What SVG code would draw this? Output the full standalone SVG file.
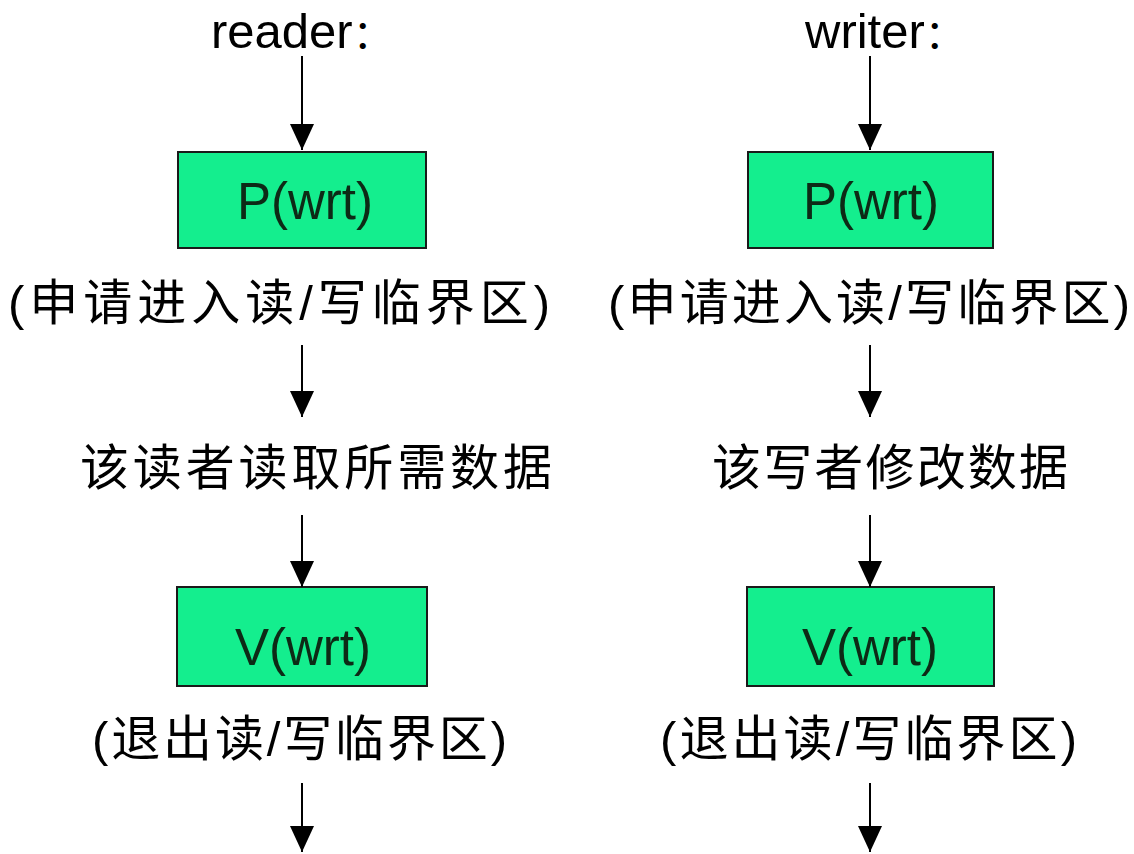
<svg xmlns="http://www.w3.org/2000/svg" width="1134" height="854" viewBox="0 0 1134 854">
<style>
.box{fill:#14EE8E;stroke:#1a1a1a;stroke-width:2}
.lat{font-family:"Liberation Sans",Arial,sans-serif;fill:#000}
.boxt{font-family:"Liberation Sans",Arial,sans-serif;font-size:51px;fill:#0d2a16;text-anchor:middle}
.cjk{font-family:"Liberation Sans","Noto Sans CJK SC",sans-serif;font-size:49px;fill:#000}
.conn line{stroke:#000;stroke-width:2}
</style>
<defs>
<marker id="ah" markerUnits="userSpaceOnUse" markerWidth="26" markerHeight="24" refX="26" refY="12" orient="auto">
<path d="M0,0 L26,12 L0,24 z" fill="#000"/>
</marker>
</defs>
<rect width="1134" height="854" fill="#fff"/>
<g id="reader-title"><text class="lat" x="211" y="48" font-size="49">reader<tspan font-family="Noto Sans CJK SC,sans-serif" font-size="40">：</tspan></text></g>
<g id="writer-title"><text class="lat" x="805" y="48" font-size="49">writer<tspan font-family="Noto Sans CJK SC,sans-serif" font-size="40">：</tspan></text></g>
<g id="r-p"><rect class="box" x="178" y="152" width="248" height="96"/><text class="boxt" x="305" y="219">P(wrt)</text></g>
<g id="w-p"><rect class="box" x="748" y="152" width="245" height="96"/><text class="boxt" x="871" y="219">P(wrt)</text></g>
<g id="r-enter"><text class="cjk" x="8" y="320" textLength="542" lengthAdjust="spacing">(申请进入读/写临界区)</text></g>
<g id="w-enter"><text class="cjk" x="608" y="320" textLength="522" lengthAdjust="spacing">(申请进入读/写临界区)</text></g>
<g id="r-read"><text class="cjk" x="80" y="485" textLength="472" lengthAdjust="spacing">该读者读取所需数据</text></g>
<g id="w-mod"><text class="cjk" x="712" y="485" textLength="356" lengthAdjust="spacing">该写者修改数据</text></g>
<g id="r-v"><rect class="box" x="177" y="587" width="250" height="99"/><text class="boxt" x="303" y="665">V(wrt)</text></g>
<g id="w-v"><rect class="box" x="747" y="587" width="247" height="99"/><text class="boxt" x="870" y="665">V(wrt)</text></g>
<g id="r-exit"><text class="cjk" x="92" y="756" textLength="415" lengthAdjust="spacing">(退出读/写临界区)</text></g>
<g id="w-exit"><text class="cjk" x="660" y="756" textLength="417" lengthAdjust="spacing">(退出读/写临界区)</text></g>
<g id="connectors" class="conn">
<line x1="302" y1="56" x2="302" y2="150" marker-end="url(#ah)"/>
<line x1="302" y1="345" x2="302" y2="417" marker-end="url(#ah)"/>
<line x1="302" y1="515" x2="302" y2="587" marker-end="url(#ah)"/>
<line x1="302" y1="783" x2="302" y2="852" marker-end="url(#ah)"/>
<line x1="870" y1="56" x2="870" y2="150" marker-end="url(#ah)"/>
<line x1="870" y1="345" x2="870" y2="417" marker-end="url(#ah)"/>
<line x1="870" y1="515" x2="870" y2="587" marker-end="url(#ah)"/>
<line x1="870" y1="783" x2="870" y2="852" marker-end="url(#ah)"/>
</g>
</svg>
